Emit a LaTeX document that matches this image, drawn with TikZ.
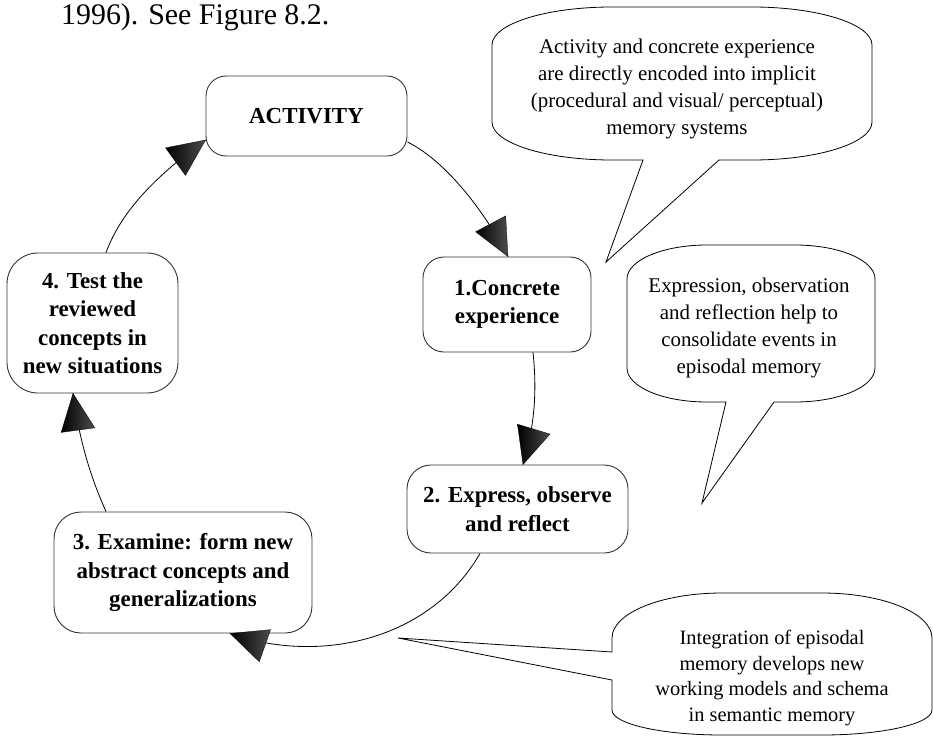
\documentclass[tikz,border=0pt]{standalone}
\usepackage{fontspec}
\setmainfont{Liberation Serif}
\usetikzlibrary{decorations.markings}

\tikzset{
  % rounded boxes of the learning cycle
  stage/.style={draw=black!80, line width=0.9bp, fill=white, rounded corners=#1,
    align=center, inner sep=0pt, font=\bfseries\fontsize{23}{28.5}\selectfont},
  stage/.default=22bp,
  % speech bubbles
  bubble/.style={draw=black, line width=0.8bp, fill=white},
  note/.style={align=center, inner sep=0pt, font=\fontsize{21}{26.8}\selectfont},
  % curved connectors ending in a large shaded triangle
  flow/.style={draw=black, line width=0.8bp, postaction={decorate},
    decoration={markings, mark=at position -0.01bp with {
      \shade[left color=black, right color=black!70, draw=black, line width=0.3bp]
        (0bp,0bp) -- (-37bp,17bp) -- (-37bp,-17bp) -- cycle;}}},
}

\begin{document}
\begin{tikzpicture}[x=1bp, y=-1bp]
\useasboundingbox (0,0) rectangle (933,736);

% running text above the figure
\node[anchor=base west, inner sep=0pt, font=\fontsize{30}{36}\selectfont] (cite) at (61,25) {1996). See Figure 8.2.};

% stages of the cycle
\node[stage=20bp, minimum width=201bp, minimum height=80bp]  (act)  at (306.5,116)  {ACTIVITY};
\node[stage=21bp, minimum width=168bp, minimum height=95bp]  (conc) at (507,304.5)  {1.Concrete\\experience};
\node[stage=24bp, minimum width=221bp, minimum height=88bp]  (expr) at (517.5,509)  {2. Express, observe\\and reflect};
\node[stage=27bp, minimum width=258bp, minimum height=121bp] (exam) at (183,572.5)  {3. Examine: form new\\abstract concepts and\\generalizations};
\node[stage=31bp, minimum width=171bp, minimum height=140bp] (test) at (92.5,323)   {4. Test the\\reviewed\\concepts in\\new situations};

% connectors
\draw[flow] ([yshift=-26bp]act.east) .. controls (440,158) and (478,200) .. ([xshift=1bp]conc.north);
\draw[flow] ([xshift=26bp]conc.south) .. controls (537,390) and (535,425) .. ([xshift=5.5bp]expr.north);
\draw[flow] ([xshift=-37.5bp]expr.south) .. controls (430,640) and (320,665) .. ([xshift=47bp]exam.south);
\draw[flow] ([xshift=-77bp]exam.north) .. controls (92,480) and (80,445) .. ([xshift=-19.5bp]test.south);
\draw[flow] ([xshift=13.5bp]test.north) .. controls (120,215) and (150,180) .. ([yshift=-24bp]act.west);

% speech bubbles with their pointers
\coordinate (tip1) at (606,262);
\coordinate (tip2) at (702,503);
\coordinate (tip3) at (398,638);

\draw[bubble] (492,45) arc[start angle=180, end angle=90, x radius=120bp, y radius=38bp]
  -- (752,7) arc[start angle=90, end angle=0, x radius=120bp, y radius=38bp]
  -- (872,122) arc[start angle=0, end angle=-90, x radius=120bp, y radius=38bp]
  -- (719,160) -- (tip1) -- (643,160)
  -- (612,160) arc[start angle=270, end angle=180, x radius=120bp, y radius=38bp]
  -- cycle;

\draw[bubble] (627,279) arc[start angle=180, end angle=90, x radius=80bp, y radius=34bp]
  -- (795,245) arc[start angle=90, end angle=0, x radius=80bp, y radius=34bp]
  -- (875,368) arc[start angle=0, end angle=-90, x radius=80bp, y radius=34bp]
  -- (774,402) -- (tip2) -- (726,402)
  -- (707,402) arc[start angle=270, end angle=180, x radius=80bp, y radius=34bp]
  -- cycle;

\draw[bubble] (612,638) arc[start angle=180, end angle=90, x radius=110bp, y radius=45bp]
  -- (822,593) arc[start angle=90, end angle=0, x radius=110bp, y radius=45bp]
  -- (932,710) arc[start angle=0, end angle=-90, x radius=110bp, y radius=25bp]
  -- (722,735) arc[start angle=270, end angle=180, x radius=110bp, y radius=25bp]
  -- (612,680) -- (tip3) -- (612,652)
  -- cycle;

% bubble texts
\node[note] (n1) at (677,89)  {Activity and concrete experience\\are directly encoded into implicit\\(procedural and visual/ perceptual)\\memory systems};
\node[note] (n2) at (749,328) {Expression, observation\\and reflection help to\\consolidate events in\\episodal memory};
\node[note, font=\fontsize{20.5}{26}\selectfont] (n3) at (772,678) {Integration of episodal\\memory develops new\\working models and schema\\in semantic memory};
\end{tikzpicture}
\end{document}
